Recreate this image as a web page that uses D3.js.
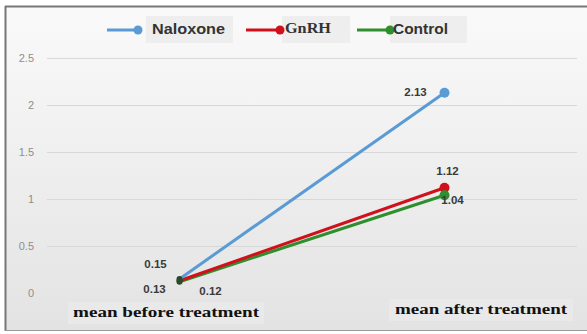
<!DOCTYPE html>
<html>
<head>
<meta charset="utf-8">
<script src="https://cdn.jsdelivr.net/npm/d3@7/dist/d3.min.js"></script>
<style>
  html, body { margin: 0; padding: 0; background: #ffffff; }
  svg { display: block; }
</style>
</head>
<body>
<svg id="chart" width="587" height="334"></svg>
<script>
// Categories and series values
const categories = ["mean before treatment", "mean after treatment"];
const seriesNames = ["Naloxone", "GnRH", "Control"];
const naloxone = [0.15, 2.13];
const gnrh = [0.13, 1.12];
const control = [0.12, 1.04];
const yTicks = [0, 0.5, 1, 1.5, 2, 2.5];
const yTickLabels = ["0", "0.5", "1", "1.5", "2", "2.5"];

const series = [
  { name: seriesNames[0], values: naloxone, color: "#5b9bd5" },
  { name: seriesNames[1], values: gnrh, color: "#d0101a" },
  { name: seriesNames[2], values: control, color: "#2f8f2f" }
];

const svg = d3.select("#chart");
const W = 587, H = 334;

// Panel background with a soft vertical gradient
const defs = svg.append("defs");
const grad = defs.append("linearGradient").attr("id", "bg")
  .attr("x1", 0).attr("y1", 0).attr("x2", 0).attr("y2", 1);
grad.append("stop").attr("offset", "0%").attr("stop-color", "#fafafa");
grad.append("stop").attr("offset", "100%").attr("stop-color", "#e3e3e3");

svg.append("rect").attr("x", 5).attr("y", 6).attr("width", W - 5).attr("height", 324)
  .attr("fill", "url(#bg)");
// Frame: top and left edges dark, bottom light
svg.append("line").attr("x1", 5).attr("x2", W).attr("y1", 6.5).attr("y2", 6.5)
  .attr("stroke", "#777").attr("stroke-width", 2);
svg.append("line").attr("x1", 5.5).attr("x2", 5.5).attr("y1", 6).attr("y2", 331)
  .attr("stroke", "#777").attr("stroke-width", 2);
svg.append("line").attr("x1", 5).attr("x2", W).attr("y1", 330.5).attr("y2", 330.5)
  .attr("stroke", "#999").attr("stroke-width", 1);

// Scales
const x = d3.scalePoint().domain(categories).range([47, 577]).padding(0.5);
const y = d3.scaleLinear().domain([0, 2.5]).range([293, 58]);

// Gridlines + y axis labels
const yAxis = d3.axisLeft(y).tickValues(yTicks)
  .tickFormat((d, i) => yTickLabels[i])
  .tickSize(-(577 - 47)).tickPadding(14);
const gy = svg.append("g").attr("transform", "translate(47,0)").call(yAxis);
gy.select(".domain").remove();
gy.selectAll(".tick line").attr("stroke", "#d8d8d8").attr("stroke-width", 1)
  .filter(d => d === 0).attr("stroke", "none");
gy.selectAll(".tick text").attr("fill", "#8e8e8e")
  .attr("font-family", "Liberation Sans, Arial, sans-serif").attr("font-size", 11)
  .attr("text-anchor", "end").attr("x", -13);

// Lines and markers
const line = d3.line().x((d, i) => x(categories[i])).y(d => y(d));
series.slice().reverse().forEach(s => {
  svg.append("path").datum(s.values).attr("d", line)
    .attr("fill", "none").attr("stroke", s.color).attr("stroke-width", 3)
    .attr("stroke-linecap", "round");
});
series.forEach(s => {
  svg.append("circle").attr("cx", x(categories[1])).attr("cy", y(s.values[1]))
    .attr("r", 5).attr("fill", s.color);
});
series.forEach(s => {
  svg.append("circle").attr("cx", x(categories[0])).attr("cy", y(s.values[0]))
    .attr("r", 3).attr("fill", "#2a4a2a");
});

// Data labels
const labelFont = "Liberation Sans, Arial, sans-serif";
const dataLabels = [
  { v: naloxone[0], cat: 0, dx: -24, dy: -14 },
  { v: gnrh[0], cat: 0, dx: -25, dy: 9 },
  { v: control[0], cat: 0, dx: 31, dy: 10 },
  { v: naloxone[1], cat: 1, dx: -29, dy: 0 },
  { v: gnrh[1], cat: 1, dx: 3, dy: -16 },
  { v: control[1], cat: 1, dx: 8, dy: 6 }
];
svg.append("g").selectAll("text").data(dataLabels).join("text")
  .attr("x", d => x(categories[d.cat]) + d.dx)
  .attr("y", d => y(d.v) + d.dy)
  .attr("text-anchor", "middle").attr("dominant-baseline", "middle")
  .attr("font-family", labelFont).attr("font-weight", "bold").attr("font-size", 11.5)
  .attr("fill", "#3a3a3a")
  .text(d => d.v.toFixed(2));

// Category labels in shaded boxes
const serif = "Liberation Serif, 'DejaVu Serif', serif";
const catLabels = [
  { text: categories[0], cx: 166, cy: 313, w: 196, tw: 186 },
  { text: categories[1], cx: 481, cy: 310, w: 184, tw: 172 }
];
catLabels.forEach(c => {
  svg.append("rect").attr("x", c.cx - c.w / 2).attr("y", c.cy - 11)
    .attr("width", c.w).attr("height", 22).attr("fill", "#e9e9e9");
  svg.append("text").attr("x", c.cx).attr("y", c.cy)
    .attr("text-anchor", "middle").attr("dominant-baseline", "middle")
    .attr("font-family", serif)
    .attr("font-weight", "bold").attr("font-size", 15.5).attr("fill", "#111")
    .attr("textLength", c.tw).attr("lengthAdjust", "spacingAndGlyphs")
    .text(c.text);
});

// Legend
const legend = [
  { s: series[0], x0: 107, x1: 138, tx: 152, tw: 73, boxX: 146, boxW: 87, font: labelFont },
  { s: series[1], x0: 246, x1: 280, tx: 285, tw: 46, boxX: 282, boxW: 68, font: serif },
  { s: series[2], x0: 357, x1: 390, tx: 393, tw: 55, boxX: 390, boxW: 77, font: labelFont }
];
legend.forEach(l => {
  svg.append("rect").attr("x", l.boxX).attr("y", 16).attr("width", l.boxW).attr("height", 27)
    .attr("fill", "#eeeeee");
  svg.append("line").attr("x1", l.x0).attr("x2", l.x1).attr("y1", 30).attr("y2", 30)
    .attr("stroke", l.s.color).attr("stroke-width", 3);
  svg.append("circle").attr("cx", l.x1).attr("cy", 30).attr("r", 4.5).attr("fill", l.s.color);
  svg.append("text").attr("x", l.tx).attr("y", 30).attr("dominant-baseline", "middle")
    .attr("font-family", l.font).attr("font-weight", "bold").attr("font-size", 15)
    .attr("textLength", l.tw).attr("lengthAdjust", "spacingAndGlyphs")
    .attr("fill", "#333").text(l.s.name);
});
</script>
</body>
</html>
